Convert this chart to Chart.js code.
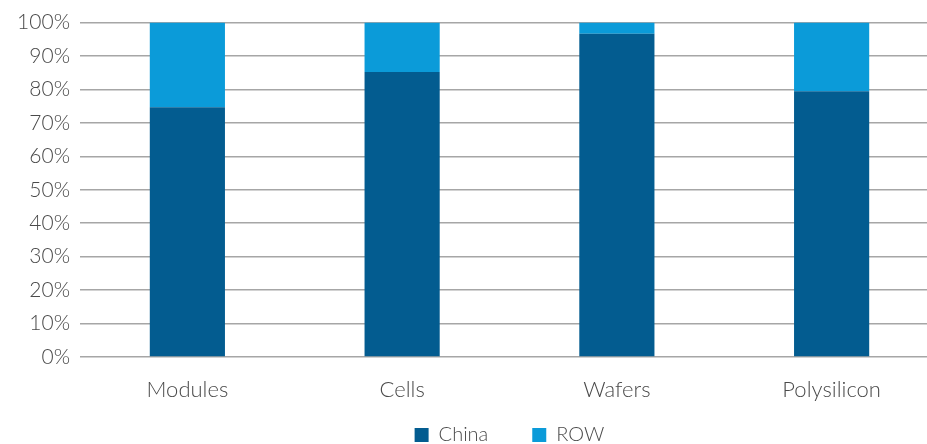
<!DOCTYPE html>
<html>
<head>
<meta charset="utf-8">
<script src="https://cdn.jsdelivr.net/npm/chart.js@4/dist/chart.umd.min.js"></script>
<style>
  html, body { margin:0; padding:0; background:#fff; overflow:hidden; }
  /* slightly bigger than the window: gridlines run off the right edge,
     legend's bottom slack falls below the fold */
  #wrap { width:939px; height:455px; position:relative; }
</style>
</head>
<body>
<div id="wrap"><canvas id="chart"></canvas></div>
<script>
const categories = ['Modules', 'Cells', 'Wafers', 'Polysilicon'];
const chinaShare = [74.7, 85.2, 96.7, 79.5];
const rowShare = [25.3, 14.8, 3.3, 20.5];
const yTicks = [0, 10, 20, 30, 40, 50, 60, 70, 80, 90, 100];

const COLORS = { china: '#035c90', row: '#0b9bd9', grid: '#a6a6a6', text: '#4a4a4a' };
const FONT = "Lato, 'Open Sans', sans-serif";

new Chart(document.getElementById('chart'), {
  type: 'bar',
  data: {
    labels: categories,
    datasets: [
      { label: 'China', data: chinaShare, backgroundColor: COLORS.china, borderWidth: 0 },
      { label: 'ROW', data: rowShare, backgroundColor: COLORS.row, borderWidth: 0 },
    ]
  },
  options: {
    responsive: true, maintainAspectRatio: false, animation: false,
    layout: { padding: { top: 7.4, left: 0, right: 0, bottom: 0 } },
    datasets: { bar: { barPercentage: 0.7, categoryPercentage: 0.5 } },
    plugins: {
      legend: {
        position: 'bottom', fullSize: false,
        labels: { color: COLORS.text, boxWidth: 14, boxHeight: 14, padding: 44,
          font: { family: FONT, size: 20, weight: 300 } }
      },
      tooltip: { enabled: false }
    },
    scales: {
      x: {
        stacked: true,
        grid: { display: false },
        border: { display: false },
        // short axis box so the legend sits close; labels drawn unclipped
        afterFit: (s) => { s.height = 24; s._computeLabelArea = () => undefined; },
        ticks: { color: COLORS.text, padding: 12, font: { family: FONT, size: 22, weight: 300 } }
      },
      y: {
        stacked: true, min: 0, max: 100,
        afterBuildTicks: (s) => { s.ticks = yTicks.map(v => ({ value: v })); },
        afterFit: (s) => { s.width = 80; },
        grid: { color: COLORS.grid, lineWidth: 1.5, drawTicks: false },
        border: { display: false },
        ticks: { color: COLORS.text, padding: 10, callback: v => v + '%',
          font: { family: FONT, size: 21, weight: 300 } }
      }
    }
  }
});
</script>
</body>
</html>
